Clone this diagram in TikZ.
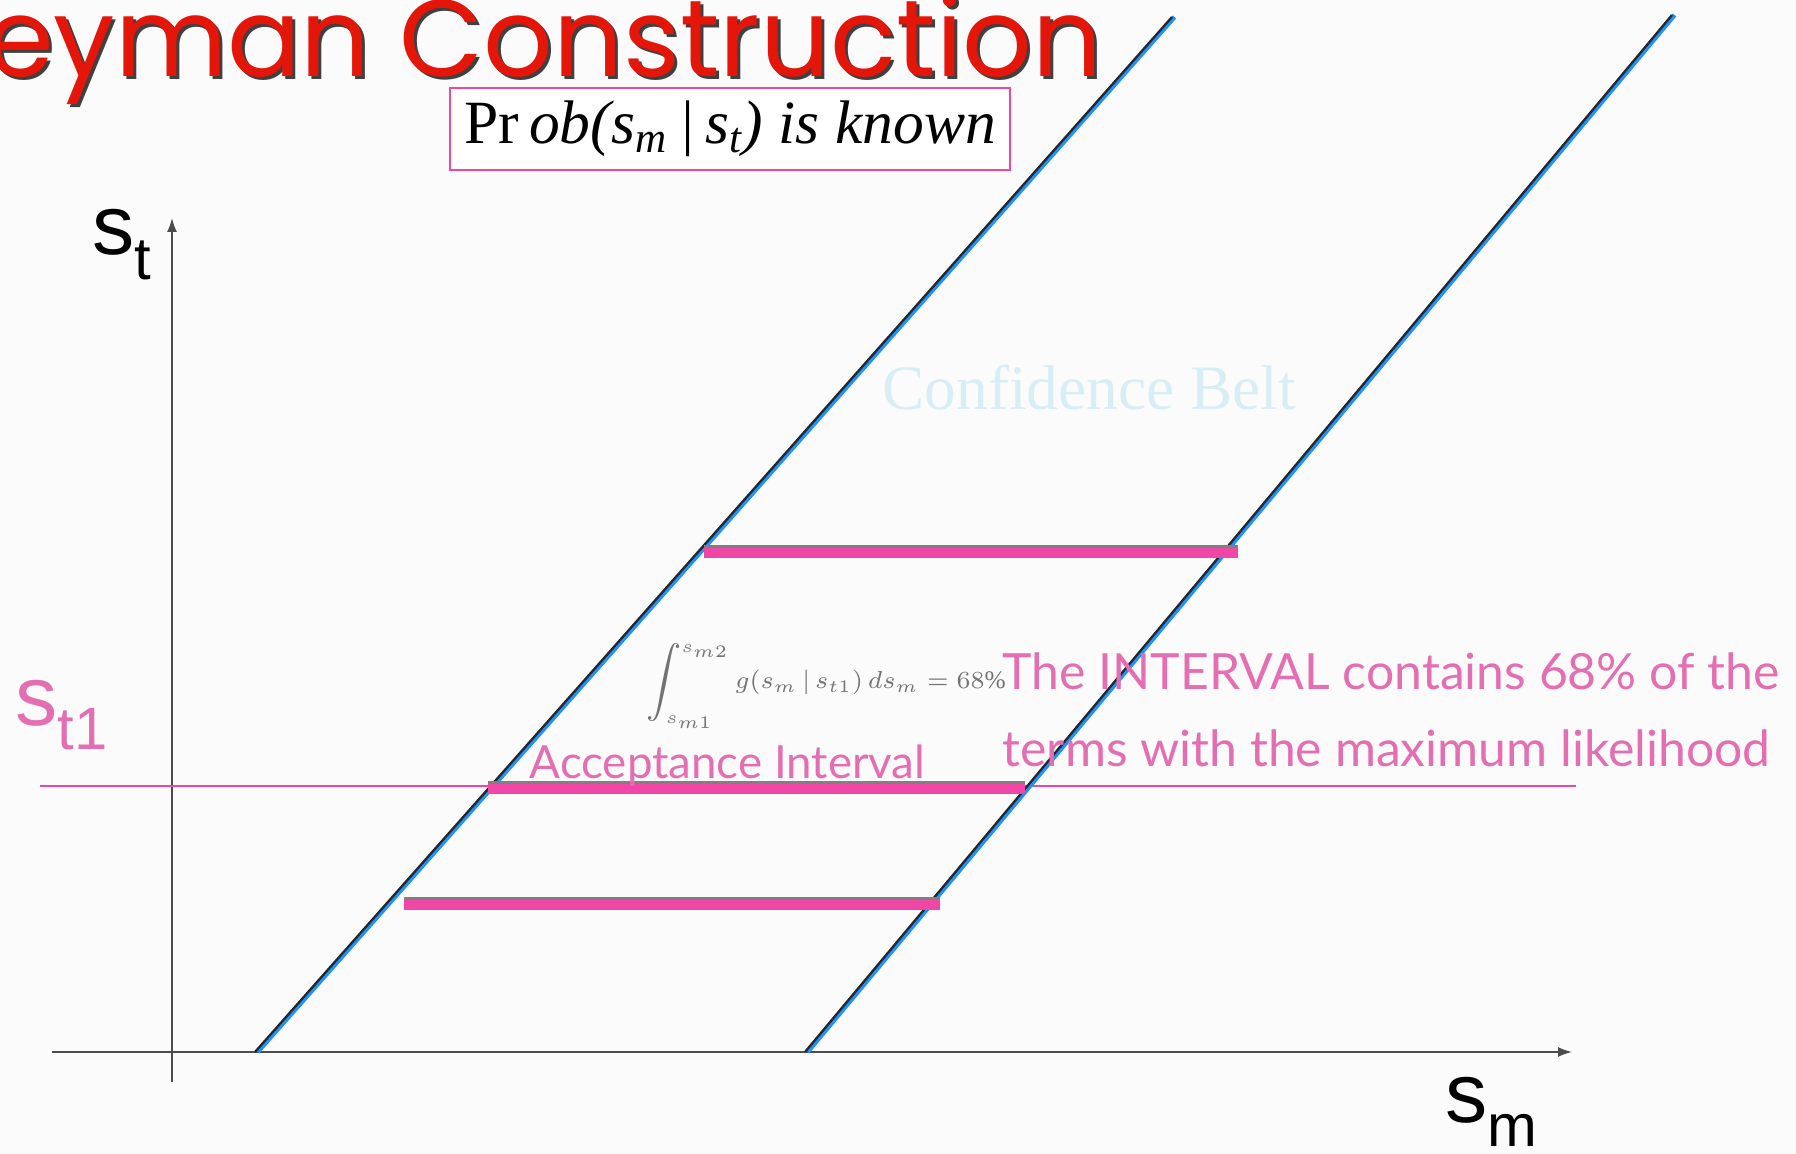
\documentclass[tikz,border=0pt]{standalone}
\usepackage{fontspec}
\setmainfont{Liberation Serif}
\newfontfamily\labfont{Liberation Sans}
\newfontfamily\notefont{Lato}
\newfontfamily\titlefont{Poppins}
\usetikzlibrary{arrows.meta,positioning,calc}
\definecolor{beltblue}{RGB}{30,144,255}
\definecolor{barpink}{RGB}{240,70,165}
\definecolor{notepink}{RGB}{228,110,178}
\definecolor{titlered}{RGB}{228,22,10}
\definecolor{beltcyan}{RGB}{216,238,246}
\definecolor{paper}{RGB}{250,251,250}
\tikzset{
  axis/.style={draw=black!70, line width=0.45pt, -{Latex[length=1.4mm,width=1mm]}},
  beltline/.style={draw=beltblue, line width=1.3pt},
  beltedge/.style={draw=black!85, line width=0.65pt},
  pinkbar/.style={draw=barpink, line width=2.9pt},
  graybar/.style={draw=gray, line width=0.9pt},
  axlabel/.style={font=\labfont, inner sep=0pt, anchor=base west},
  note/.style={font=\notefont, text=notepink, inner sep=0pt, align=left},
  probbox/.style={draw=barpink, fill=white, line width=0.6pt, minimum width=56mm, minimum height=8.2mm, inner sep=0pt}
}
\newcommand{\axlab}[2]{\fontsize{24}{24}\selectfont #1\raisebox{-7pt}{\fontsize{17}{17}\selectfont #2}}

\begin{document}
\begin{tikzpicture}[x=0.1mm, y=-0.1mm]
  \useasboundingbox (0,0) rectangle (1796,1154);
  \fill[paper] (0,0) rectangle (1796,1154);
  \clip (0,0) rectangle (1796,1154);

  % title, cut at the left edge
  \node[font=\titlefont\fontsize{31}{33}\selectfont, text=black!75, anchor=base east, inner sep=0pt] (titleshadow) at (1106,80) {eyman Construction};
  \node[font=\titlefont\fontsize{31}{33}\selectfont, text=titlered, anchor=base east, inner sep=0pt] (title) at (1103,77) {eyman Construction};
  \node[probbox] (prob) at (730,129) {\fontsize{17.5}{19}\selectfont Pr\,\textit{ob(s\textsubscript{m}\,|\,s\textsubscript{t}) is known}};

  % axes
  \coordinate (ybot) at (172,1082);
  \coordinate (ytop) at (172,218);
  \coordinate (xleft) at (52,1052);
  \coordinate (xright) at (1572,1052);
  \draw[axis] (ybot) -- (ytop);
  \draw[axis] (xleft) -- (xright);
  \node[axlabel] (st) at (92,255) {\axlab{s}{t}};
  \node[axlabel] (sm) at (1445,1122) {\axlab{s}{m}};
  \node[axlabel, text=notepink] (st1) at (15,725) {\axlab{s}{t1}};

  % s_t1 level
  \coordinate (hleft) at (40,786);
  \coordinate (hright) at (1576,786);
  \draw[barpink, line width=0.5pt] (hleft) -- (hright);

  % belt edges
  \coordinate (L0) at (255,1052);
  \coordinate (L1) at (1172,17);
  \coordinate (R0) at (805,1052);
  \coordinate (R1) at (1672,15);
  \foreach \a/\b in {L0/L1,R0/R1} {
    \draw[beltline] ([xshift=0.25mm]\a) -- ([xshift=0.25mm]\b);
    \draw[beltedge] (\a) -- (\b);
  }

  % acceptance intervals
  \foreach \y/\l/\r in {552/704/1238, 788/488/1025, 904/404/940} {
    \draw[graybar] (\l,\y-5) -- (\r,\y-5);
    \draw[pinkbar] (\l,\y+1) -- (\r,\y+1);
  }

  \node[font=\fontsize{18}{18}\selectfont, text=beltcyan, anchor=base west, inner sep=0pt] (belt) at (882,410) {Confidence Belt};
  \node[text=black!55, font=\fontsize{7.2}{9}\selectfont, inner sep=0pt] (integ) at (826,686) {$\displaystyle\int\nolimits_{s_{m1}}^{s_{m2}} g(s_m\,|\,s_{t1})\,ds_m = 68\%$};
  \node[note, font=\notefont\fontsize{14.2}{21.9}\selectfont, anchor=north west] (interval) at (1002,652) {The INTERVAL contains 68\% of the\\terms with the maximum likelihood};
  \node[note, font=\notefont\fontsize{13}{13}\selectfont, anchor=base west] (accept) at (529,779) {Acceptance Interval};
\end{tikzpicture}
\end{document}
